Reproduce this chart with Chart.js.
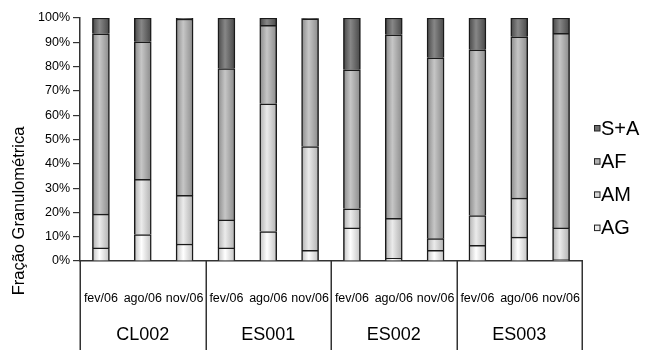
<!DOCTYPE html>
<html>
<head>
<meta charset="utf-8">
<script src="https://cdn.jsdelivr.net/npm/chart.js@4.4.1/dist/chart.umd.min.js"></script>
<style>
html,body{margin:0;padding:0;background:#fff;}
#wrap{width:647px;height:350px;position:relative;}
</style>
</head>
<body>
<div id="wrap"><canvas id="c" width="647" height="350"></canvas></div>
<script>
const months = ["fev/06","ago/06","nov/06","fev/06","ago/06","nov/06","fev/06","ago/06","nov/06","fev/06","ago/06","nov/06"];
const groups = ["CL002","ES001","ES002","ES003"];
const AG  = [5.4, 10.9, 7.0, 5.4, 12.1, 4.4, 13.6, 1.1, 4.4, 6.5, 9.8, 0.7];
const AM  = [13.9, 22.7, 20.0, 11.5, 52.6, 42.7, 7.9, 16.5, 4.8, 12.2, 16.1, 12.9];
const AF  = [74.2, 56.6, 72.6, 62.3, 32.3, 52.6, 57.2, 75.5, 74.4, 68.2, 66.4, 80.1];
const SA  = [6.5, 9.8, 0.4, 20.8, 3.0, 0.3, 21.3, 6.9, 16.4, 13.1, 7.7, 6.3];
const yTicks = [0,10,20,30,40,50,60,70,80,90,100];
const yTitle = "Fração Granulométrica";

const FONT = "'Liberation Sans', Arial, sans-serif";

function grad(dark, light, flat) {
  return function(ctx) {
    const chart = ctx.chart;
    const xs = chart.scales && chart.scales.x;
    if (!xs || ctx.dataIndex === undefined || !chart.chartArea) return flat;
    const cx = xs.getPixelForValue(ctx.dataIndex);
    const w = 17;
    const g = chart.ctx.createLinearGradient(cx - w/2, 0, cx + w/2, 0);
    g.addColorStop(0, dark);
    g.addColorStop(0.42, light);
    g.addColorStop(1, dark);
    return g;
  };
}

const legendFlat = ["#6e6e6e", "#b0b0b0", "#d6d6d6", "#ececec"];

const decor = {
  id: 'decor',
  afterDraw(chart) {
    const c = chart.ctx;
    const xs = chart.scales.x;
    const ca = chart.chartArea;
    const H = chart.height;
    c.save();
    c.strokeStyle = '#333';
    c.lineWidth = 1.5;
    // y axis extension and group dividers
    const bounds = [ca.left];
    for (let i = 1; i < groups.length; i++) {
      bounds.push((xs.getPixelForValue(i*3-1) + xs.getPixelForValue(i*3)) / 2);
    }
    bounds.push(ca.right);
    c.beginPath();
    bounds.forEach(b => { c.moveTo(Math.round(b)+0.25, ca.bottom); c.lineTo(Math.round(b)+0.25, H); });
    c.stroke();
    // group labels
    c.fillStyle = '#000';
    c.font = '18px ' + FONT;
    c.textAlign = 'center';
    c.textBaseline = 'middle';
    for (let i = 0; i < groups.length; i++) {
      c.fillText(groups[i], (bounds[i] + bounds[i+1]) / 2, 335);
    }
    // y title
    c.save();
    c.translate(19, 211);
    c.rotate(-Math.PI/2);
    c.font = '16.5px ' + FONT;
    c.fillText(yTitle, 0, 0);
    c.restore();
    // legend
    const ds = chart.data.datasets.slice().reverse();
    c.textAlign = 'left';
    c.font = '20px ' + FONT;
    ds.forEach((d, i) => {
      const y = 128 + i * 33.2;
      c.fillStyle = legendFlat[i];
      c.fillRect(594, y - 3, 6, 6);
      c.lineWidth = 1;
      c.strokeStyle = '#222';
      c.strokeRect(594.5, y - 2.5, 5.5, 5.5);
      c.fillStyle = '#000';
      c.fillText(d.label, 601, y + 1);
    });
    c.restore();
  }
};

new Chart(document.getElementById('c'), {
  type: 'bar',
  data: {
    labels: months,
    datasets: [
      { label: 'AG', data: AG, backgroundColor: grad('#c2c2c2', '#ffffff', '#ececec') },
      { label: 'AM', data: AM, backgroundColor: grad('#b0b0b0', '#ebebeb', '#d6d6d6') },
      { label: 'AF', data: AF, backgroundColor: grad('#8a8a8a', '#c6c6c6', '#b0b0b0') },
      { label: 'S+A', data: SA, backgroundColor: grad('#474747', '#878787', '#6e6e6e') }
    ]
  },
  options: {
    responsive: false,
    animation: false,
    layout: { padding: { top: 18, right: 65, left: 0, bottom: 0 } },
    datasets: { bar: { borderColor: '#1a1a1a', borderWidth: 1.5, barThickness: 17 } },
    plugins: { legend: { display: false }, tooltip: { enabled: false } },
    scales: {
      x: {
        stacked: true,
        grid: { display: false },
        border: { display: true, color: '#333', width: 1.5 },
        ticks: { color: '#000', font: { family: FONT, size: 12.5 }, padding: 22, maxRotation: 0, autoSkip: false },
        afterFit(s) { s.height = 89; }
      },
      y: {
        stacked: true,
        min: 0, max: 100,
        afterBuildTicks(s) { s.ticks = yTicks.map(v => ({ value: v })); },
        grid: { display: true, drawOnChartArea: false, drawTicks: true, tickLength: 7, color: '#333', lineWidth: 1.2 },
        border: { display: true, color: '#333', width: 1.5 },
        ticks: { color: '#000', font: { family: FONT, size: 12.5 }, padding: 3, callback: v => v + '%' },
        afterFit(s) { s.width = 80; }
      }
    }
  },
  plugins: [decor]
});
</script>
</body>
</html>
